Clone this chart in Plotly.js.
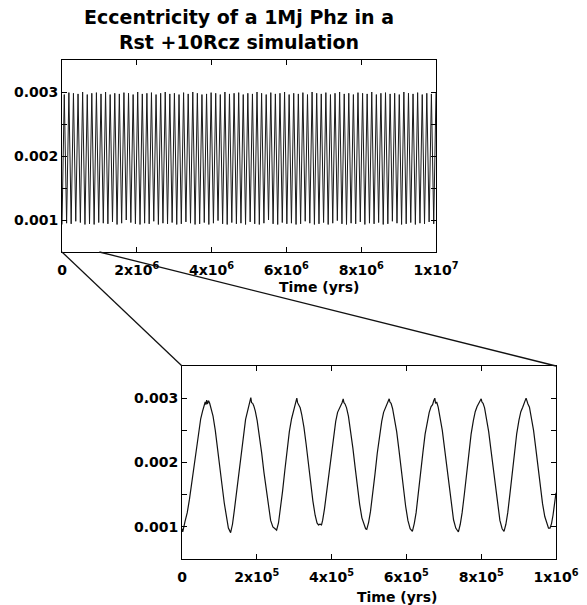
<!DOCTYPE html>
<html><head><meta charset="utf-8">
<script src="https://cdn.plot.ly/plotly-3.0.1.min.js"></script>
<style>html,body{margin:0;padding:0;background:#fff}</style>
</head><body>
<div id="chart" style="width:587px;height:605px"></div>
<script>
// ---------- DATA ----------
const chartTitle = "Eccentricity of a 1Mj Phz in a<br>Rst +10Rcz simulation";
const xAxisLabel = "Time (yrs)";

// Full run (0 - 1e7 yr): times (kyr) of eccentricity minima and maxima
const topTroughKyr = [0,123,245,368,491,614,736,859,982,1104,1227,1350,1472,1595,1718,1841,1963,2086,2209,2331,
  2454,2577,2699,2822,2945,3068,3190,3313,3436,3558,3681,3804,3926,4049,4172,4295,4417,4540,4663,4785,
  4908,5031,5153,5276,5399,5522,5644,5767,5890,6012,6135,6258,6380,6503,6626,6749,6871,6994,7117,7239,
  7362,7485,7607,7730,7853,7976,8098,8221,8344,8466,8589,8712,8834,8957,9080,9203,9325,9448,9571,9693,
  9816,9939];
const topTroughEcc = [0.00093,0.00095,0.00094,0.00098,0.00096,0.00093,0.00094,0.00093,0.00096,0.00095,
  0.00094,0.00097,0.00093,0.00095,0.00100,0.00096,0.00094,0.00093,0.00095,0.00094,
  0.00098,0.00093,0.00095,0.00094,0.00096,0.00093,0.00094,0.00097,0.00095,0.00093,
  0.00094,0.00096,0.00093,0.00095,0.00099,0.00094,0.00093,0.00096,0.00094,0.00095,
  0.00093,0.00097,0.00094,0.00093,0.00095,0.00100,0.00094,0.00093,0.00096,0.00094,
  0.00095,0.00093,0.00094,0.00098,0.00095,0.00093,0.00094,0.00096,0.00093,0.00095,
  0.00099,0.00094,0.00093,0.00095,0.00094,0.00097,0.00093,0.00095,0.00094,0.00096,
  0.00093,0.00094,0.00098,0.00095,0.00093,0.00094,0.00096,0.00093,0.00095,0.00094,
  0.00097,0.00094];
const topPeakKyr = [61,184,306,429,552,675,797,920,1043,1165,1288,1411,1533,1656,1779,1902,2024,2147,2270,2392,
  2515,2638,2760,2883,3006,3129,3251,3374,3497,3619,3742,3865,3987,4110,4233,4356,4478,4601,4724,4846,
  4969,5092,5214,5337,5460,5583,5705,5828,5951,6073,6196,6319,6441,6564,6687,6810,6932,7055,7178,7300,
  7423,7546,7668,7791,7914,8037,8159,8282,8405,8527,8650,8773,8895,9018,9141,9264,9386,9509,9632,9754,
  9877,10000];
const topPeakEcc = [0.00296,0.00299,0.00298,0.00297,0.00300,0.00296,0.00298,0.00299,0.00297,0.00300,
  0.00296,0.00298,0.00297,0.00299,0.00298,0.00296,0.00300,0.00297,0.00298,0.00299,
  0.00296,0.00298,0.00300,0.00297,0.00298,0.00296,0.00299,0.00297,0.00300,0.00298,
  0.00296,0.00297,0.00299,0.00298,0.00296,0.00300,0.00297,0.00298,0.00299,0.00296,
  0.00298,0.00297,0.00300,0.00298,0.00296,0.00299,0.00297,0.00298,0.00300,0.00296,
  0.00298,0.00297,0.00299,0.00296,0.00300,0.00298,0.00297,0.00299,0.00296,0.00298,
  0.00300,0.00297,0.00298,0.00296,0.00299,0.00298,0.00297,0.00300,0.00296,0.00298,
  0.00299,0.00297,0.00298,0.00296,0.00300,0.00298,0.00297,0.00299,0.00296,0.00298,
  0.00297,0.00300];

// Zoomed run (0 - 1e6 yr)
const zoomKyr = [0,2,8,14,20,26,32,38,44,50,55,59,62,64,66,68,71,74,78,83,89,95,101,107,113,119,124,
  130,135,140,146,152,158,164,170,175,179,182,184,186,189,192,196,201,207,213,219,225,231,237,243,248,
  253,258,263,269,275,281,287,293,298,302,305,307,309,312,316,320,326,332,338,344,350,356,361,365,369,373,
  376,381,387,393,399,405,411,416,421,425,428,431,433,436,440,445,451,457,463,469,475,481,487,491,
  494,499,504,510,516,522,528,534,539,544,548,551,554,556,559,563,568,574,580,586,592,598,604,610,
  616,621,626,632,638,644,650,656,661,666,670,673,676,678,681,685,690,696,702,708,714,720,726,732,
  739,744,749,755,761,767,773,779,784,789,793,797,800,802,805,809,814,820,826,832,838,844,850,856,
  861,866,871,877,883,889,895,901,906,911,915,918,920,922,925,929,934,940,946,952,958,964,970,976,980,
  984,988,992,996,1000];
const zoomEcc = [0.00097,0.00092,0.00108,0.00122,0.00143,0.00168,0.00196,0.00224,0.00250,0.00268,0.00280,0.00289,0.00294,0.00290,0.00297,0.00291,0.00296,0.00292,0.00284,0.00272,0.00250,0.00224,0.00195,0.00165,0.00137,0.00112,0.00098,
  0.00091,0.00104,0.00126,0.00155,0.00186,0.00218,0.00245,0.00267,0.00279,0.00288,0.00297,0.00301,0.00293,0.00292,0.00288,0.00280,0.00265,0.00242,0.00215,0.00185,0.00157,0.00130,0.00110,0.00100,0.00097,
  0.00095,0.00106,0.00126,0.00156,0.00188,0.00220,0.00248,0.00268,0.00280,0.00290,0.00298,0.00300,0.00293,0.00290,0.00285,0.00275,0.00255,0.00228,0.00198,0.00168,0.00140,0.00118,0.00106,0.00103,0.00104,0.00103,
  0.00110,0.00128,0.00155,0.00186,0.00216,0.00244,0.00264,0.00278,0.00284,0.00290,0.00293,0.00299,0.00293,0.00291,0.00285,0.00272,0.00250,0.00222,0.00192,0.00162,0.00135,0.00114,0.00102,0.00097,
  0.00096,0.00107,0.00124,0.00150,0.00182,0.00214,0.00243,0.00264,0.00278,0.00285,0.00290,0.00295,0.00299,0.00294,0.00292,0.00284,0.00270,0.00248,0.00220,0.00190,0.00160,0.00132,0.00110,0.00097,
  0.00093,0.00105,0.00122,0.00150,0.00182,0.00215,0.00244,0.00264,0.00278,0.00287,0.00290,0.00296,0.00300,0.00292,0.00294,0.00286,0.00272,0.00250,0.00222,0.00192,0.00162,0.00133,0.00111,0.00098,
  0.00092,0.00104,0.00122,0.00151,0.00183,0.00216,0.00244,0.00265,0.00279,0.00287,0.00291,0.00296,0.00299,0.00294,0.00292,0.00285,0.00270,0.00248,0.00220,0.00190,0.00160,0.00132,0.00110,0.00097,
  0.00093,0.00104,0.00122,0.00152,0.00184,0.00216,0.00245,0.00266,0.00279,0.00286,0.00291,0.00297,0.00300,0.00294,0.00291,0.00286,0.00272,0.00250,0.00222,0.00192,0.00162,0.00136,0.00116,0.00104,0.00098,
  0.00098,0.00105,0.00118,0.00135,0.00153];

const yTickVals = [0.001,0.002,0.003];
const yTickText = ["0.001","0.002","0.003"];
const topXTickVals = [0,2e6,4e6,6e6,8e6,1e7];
const topXTickText = ["0","2x10<sup>6</sup>","4x10<sup>6</sup>","6x10<sup>6</sup>","8x10<sup>6</sup>","1x10<sup>7</sup>"];
const botXTickVals = [0,2e5,4e5,6e5,8e5,1e6];
const botXTickText = ["0","2x10<sup>5</sup>","4x10<sup>5</sup>","6x10<sup>5</sup>","8x10<sup>5</sup>","1x10<sup>6</sup>"];

// ---------- BUILD ----------
const topX = [], topY = [];
for (let i = 0; i < topTroughKyr.length; i++) {
  topX.push(topTroughKyr[i]*1000); topY.push(topTroughEcc[i]);
  topX.push(topPeakKyr[i]*1000); topY.push(topPeakEcc[i]);
}
const botX = zoomKyr.map(t => t*1000);

const W = 587, H = 605;
const topDomX = [62/W, 436/W], topDomY = [(H-252)/H, (H-60)/H];
const botDomX = [182/W, 556/W], botDomY = [(H-559)/H, (H-366)/H];

const tickFont = {family: "DejaVu Sans", size: 14, color: "#000", weight: "bold"};
function xAxis(dom, vals, txt, rng, anchor) {
  return {domain: dom, range: rng, anchor: anchor, tickmode: "array", tickvals: vals, ticktext: txt,
    ticks: "inside", ticklen: 5, tickcolor: "#000", tickwidth: 1, showline: true, linecolor: "#000", linewidth: 1,
    mirror: "ticks", showgrid: false, zeroline: false, tickfont: tickFont, ticklabelstandoff: 5, fixedrange: true};
}
function yAxis(dom, anchor) {
  return {domain: dom, range: [0.0005, 0.0035], anchor: anchor, tickmode: "array", tickvals: yTickVals, ticktext: yTickText,
    ticks: "inside", ticklen: 5, tickcolor: "#000", tickwidth: 1, showline: true, linecolor: "#000", linewidth: 1,
    minor: {tickmode: "linear", tick0: 0.0005, dtick: 0.0005, ticks: "inside", ticklen: 5, tickcolor: "#000", tickwidth: 1, showgrid: false},
    mirror: "ticks", showgrid: false, zeroline: false, tickfont: tickFont, fixedrange: true};
}

const data = [
  {x: topX, y: topY, xaxis: "x", yaxis: "y", type: "scatter", mode: "lines",
   line: {color: "#1a1a1a", width: 1}, hoverinfo: "skip"},
  {x: botX, y: zoomEcc, xaxis: "x2", yaxis: "y2", type: "scatter", mode: "lines",
   line: {color: "#111", width: 1.2}, hoverinfo: "skip"}
];

const layout = {
  width: W, height: H,
  margin: {l: 0, r: 0, t: 0, b: 0, autoexpand: false},
  paper_bgcolor: "#fff", plot_bgcolor: "#fff",
  showlegend: false,
  font: {family: "DejaVu Sans", color: "#000"},
  title: {text: chartTitle, x: 239/W, xanchor: "center", y: 1 - 24/H, yanchor: "top",
          font: {family: "DejaVu Sans", size: 19, color: "#000", weight: "bold"}},
  xaxis: xAxis(topDomX, topXTickVals, topXTickText, [0, 1e7], "y"),
  yaxis: yAxis(topDomY, "x"),
  xaxis2: xAxis(botDomX, botXTickVals, botXTickText, [0, 1e6], "y2"),
  yaxis2: yAxis(botDomY, "x2"),
  annotations: [
    {text: xAxisLabel, xref: "paper", yref: "paper", x: 319/W, y: 1 - 287/H, xanchor: "center", yanchor: "middle",
     showarrow: false, font: {family: "DejaVu Sans", size: 14, color: "#000", weight: "bold"}},
    {text: xAxisLabel, xref: "paper", yref: "paper", x: 397/W, y: 1 - 597/H, xanchor: "center", yanchor: "middle",
     showarrow: false, font: {family: "DejaVu Sans", size: 14, color: "#000", weight: "bold"}}
  ],
  shapes: [
    {type: "line", xref: "paper", yref: "paper",
     x0: topDomX[0], y0: topDomY[0], x1: botDomX[0], y1: botDomY[1], line: {color: "#111", width: 1.3}},
    {type: "line", xref: "paper", yref: "paper",
     x0: topDomX[0] + (topDomX[1]-topDomX[0]) * (botXTickVals[5]/1e7), y0: topDomY[0],
     x1: botDomX[1], y1: botDomY[1], line: {color: "#111", width: 1.3}}
  ]
};

Plotly.newPlot("chart", data, layout, {staticPlot: true, displayModeBar: false});
</script>
</body></html>
